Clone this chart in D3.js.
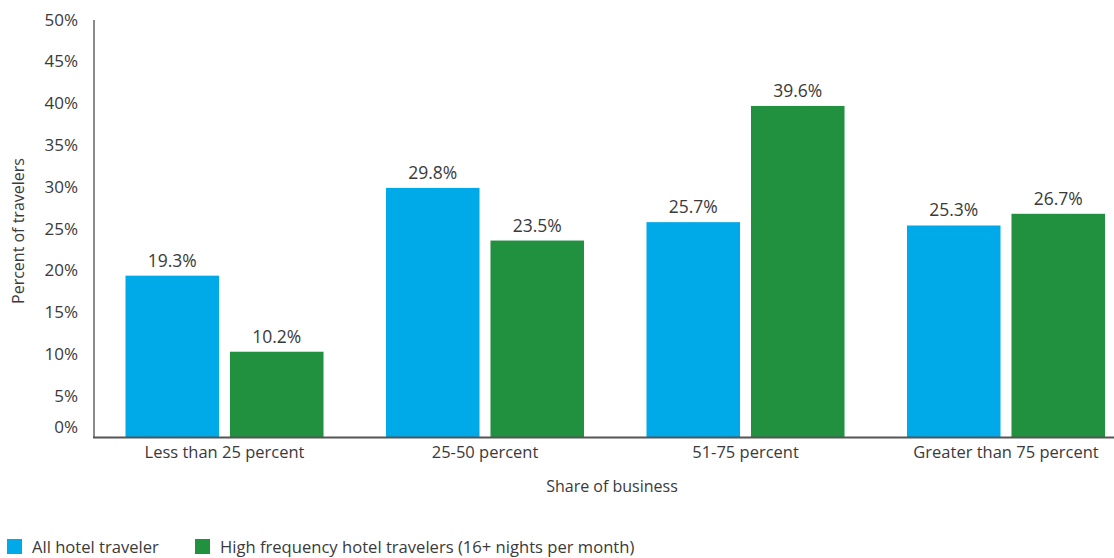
<!DOCTYPE html>
<html>
<head>
<meta charset="utf-8">
<script src="https://cdn.jsdelivr.net/npm/d3@7"></script>
<style>
  html, body { margin: 0; padding: 0; background: #fff; }
  svg { display: block; font-family: "Open Sans", sans-serif; }
</style>
</head>
<body>
<svg id="chart" width="1114" height="558"></svg>
<script>
// Share of business categories and the two traveler groups
const categories = ["Less than 25 percent", "25-50 percent", "51-75 percent", "Greater than 75 percent"];
const seriesNames = ["All hotel traveler", "High frequency hotel travelers (16+ nights per month)"];
const allTravelers = [19.3, 29.8, 25.7, 25.3];
const highFrequency = [10.2, 23.5, 39.6, 26.7];
const yTicks = [0, 5, 10, 15, 20, 25, 30, 35, 40, 45, 50];
const colors = ["#00A9E7", "#21903F"];

const seriesValues = [allTravelers, highFrequency];
const rows = categories.map((c, i) => ({
  category: c,
  values: seriesNames.map((s, j) => ({ series: s, value: seriesValues[j][i], color: colors[j] }))
}));

const svg = d3.select("#chart");
const textColor = "#3a3a3a";

const x0 = d3.scaleBand().domain(categories).range([94.25, 1136.25]).padding(0);
const x1 = d3.scaleBand().domain(seriesNames).range([0, x0.bandwidth()])
  .paddingInner(0.105).paddingOuter(0.299);
const y = d3.scaleLinear().domain([0, 50]).range([437, 19]);

// Y axis labels (no tick marks)
const yAxis = svg.append("g")
  .attr("transform", "translate(94,0)")
  .call(d3.axisLeft(y).tickValues(yTicks).tickSize(0).tickPadding(16).tickFormat(d => d + "%"));
yAxis.select(".domain").remove();
yAxis.selectAll("text")
  .attr("fill", textColor)
  .style("font-size", "17px")
  .style("font-family", "'Open Sans', sans-serif")
  .attr("dy", d => d === 0 ? "-0.28em" : "0.36em");

// Vertical axis line
svg.append("line")
  .attr("x1", 94).attr("x2", 94)
  .attr("y1", y(50) + 1).attr("y2", y(0))
  .attr("stroke", "#6e6e6e").attr("stroke-width", 1.6);

// Bars
const groups = svg.append("g").selectAll("g")
  .data(rows).join("g")
  .attr("transform", d => `translate(${x0(d.category)},0)`);

groups.selectAll("rect")
  .data(d => d.values).join("rect")
  .attr("x", d => x1(d.series))
  .attr("width", x1.bandwidth())
  .attr("y", d => y(d.value))
  .attr("height", d => y(0) - y(d.value))
  .attr("fill", d => d.color);

// Value labels above bars
groups.selectAll("text.val")
  .data(d => d.values).join("text")
  .attr("class", "val")
  .attr("x", d => x1(d.series) + x1.bandwidth() / 2)
  .attr("y", d => y(d.value) - 9)
  .attr("text-anchor", "middle")
  .attr("fill", textColor)
  .style("font-size", "17.5px")
  .text(d => d.value.toFixed(1) + "%");

// Baseline
svg.append("line")
  .attr("x1", 93).attr("x2", 1114)
  .attr("y1", y(0) + 0.5).attr("y2", y(0) + 0.5)
  .attr("stroke", "#555").attr("stroke-width", 2);

// Category labels
const xAxis = svg.append("g")
  .attr("transform", `translate(0,${y(0)})`)
  .call(d3.axisBottom(x0).tickSize(0).tickPadding(9));
xAxis.select(".domain").remove();
xAxis.selectAll("text")
  .attr("fill", textColor)
  .style("font-size", "16.5px")
  .style("font-family", "'Open Sans', sans-serif");

// Axis titles
svg.append("text")
  .attr("x", 612).attr("y", 492)
  .attr("text-anchor", "middle")
  .attr("fill", textColor)
  .style("font-size", "16px")
  .text("Share of business");

svg.append("text")
  .attr("transform", "translate(24,231) rotate(-90)")
  .attr("text-anchor", "middle")
  .attr("fill", textColor)
  .style("font-size", "16px")
  .text("Percent of travelers");

// Legend
const legendX = [7, 195];
const legend = svg.append("g").selectAll("g")
  .data(seriesNames).join("g")
  .attr("transform", (d, i) => `translate(${legendX[i]},539)`);
legend.append("rect")
  .attr("width", 15).attr("height", 15)
  .attr("fill", (d, i) => colors[i]);
legend.append("text")
  .attr("x", 25).attr("y", 14)
  .attr("fill", textColor)
  .style("font-size", "16.6px")
  .text(d => d);
</script>
</body>
</html>
